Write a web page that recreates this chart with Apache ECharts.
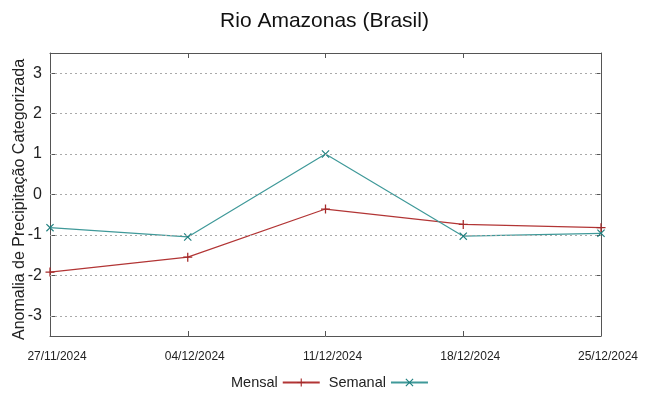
<!DOCTYPE html>
<html>
<head>
<meta charset="utf-8">
<script src="https://cdn.jsdelivr.net/npm/echarts@6/dist/echarts.min.js"></script>
<style>
  html, body { margin: 0; padding: 0; background: #fff; }
  #chart { width: 649px; height: 396px; }
</style>
</head>
<body>
<div id="chart"></div>
<script>
// datas (semanas)
var datas = ["27/11/2024", "04/12/2024", "11/12/2024", "18/12/2024", "25/12/2024"];
var mensal = [-1.92, -1.55, -0.36, -0.74, -0.82];
var semanal = [-0.82, -1.05, 1.0, -1.03, -0.96];
var yTicks = [-3, -2, -1, 0, 1, 2, 3];

var font = "'Liberation Sans', Arial, sans-serif";
var plusPath = "path://M4.3,0H5.7V4.3H10V5.7H5.7V10H4.3V5.7H0V4.3H4.3Z";
var crossPath = "path://M1,0L5,4L9,0L10,1L6,5L10,9L9,10L5,6L1,10L0,9L4,5L0,1Z";

var frameLine = { show: true, onZero: false, lineStyle: { color: "#555", width: 1 } };
var tickStyle = { show: true, inside: true, length: 5, lineStyle: { color: "#555" } };

var myChart = echarts.init(document.getElementById("chart"));
myChart.setOption({
    animation: false,
    title: {
        text: "Rio Amazonas (Brasil)",
        left: "center",
        top: 6,
        textStyle: { fontFamily: font, fontSize: 21, fontWeight: "normal", color: "#111" }
    },
    grid: { left: 50, right: 48, top: 53, bottom: 60, outerBoundsMode: "none" },
    legend: {
        bottom: 1,
        left: 226,
        align: "right",
        itemWidth: 37,
        itemHeight: 10,
        itemGap: 8,
        textStyle: { fontFamily: font, fontSize: 14.5, color: "#222" },
        data: ["Mensal", "Semanal"]
    },
    xAxis: [{
        type: "category",
        data: datas,
        boundaryGap: false,
        axisLine: frameLine,
        axisTick: tickStyle,
        axisLabel: { fontFamily: font, fontSize: 12, color: "#222", margin: 15, interval: 0, padding: [0, 0, 0, 14] },
        splitLine: { show: false }
    }, {
        type: "category",
        data: datas,
        position: "top",
        boundaryGap: false,
        axisLine: frameLine,
        axisTick: tickStyle,
        axisLabel: { show: false },
        splitLine: { show: false }
    }],
    yAxis: [{
        type: "value",
        min: -3.5,
        max: 3.5,
        name: "Anomalia de Precipitação Categorizada",
        nameLocation: "middle",
        nameRotate: 90,
        nameGap: 22,
        nameMoveOverlap: false,
        nameTextStyle: { fontFamily: font, fontSize: 16, color: "#222", padding: [0, 10, 0, 0] },
        axisLine: frameLine,
        axisTick: { show: true, inside: true, length: 5, lineStyle: { color: "#555" }, customValues: yTicks },
        axisLabel: { fontFamily: font, fontSize: 16, color: "#222", margin: 8, customValues: yTicks },
        splitLine: { show: false }
    }, {
        type: "value",
        min: -3.5,
        max: 3.5,
        position: "right",
        axisLine: frameLine,
        axisTick: { show: true, inside: true, length: 5, lineStyle: { color: "#555" }, customValues: yTicks },
        axisLabel: { show: false },
        splitLine: { show: false }
    }],
    series: [{
        // linhas de grade pontilhadas
        type: "line",
        data: [],
        silent: true,
        markLine: {
            silent: true,
            symbol: "none",
            label: { show: false },
            lineStyle: { color: "#aaa", type: [2, 3], width: 1 },
            data: yTicks.map(function (v) { return { yAxis: v }; })
        }
    }, {
        name: "Mensal",
        type: "line",
        data: mensal,
        symbol: plusPath,
        symbolSize: 9,
        showAllSymbol: true,
        lineStyle: { color: "#b23535", width: 1.2 },
        itemStyle: { color: "#a52a2a" }
    }, {
        name: "Semanal",
        type: "line",
        data: semanal,
        symbol: crossPath,
        symbolSize: 8,
        showAllSymbol: true,
        lineStyle: { color: "#3f9999", width: 1.2 },
        itemStyle: { color: "#1f7f7f" }
    }]
});
</script>
</body>
</html>
